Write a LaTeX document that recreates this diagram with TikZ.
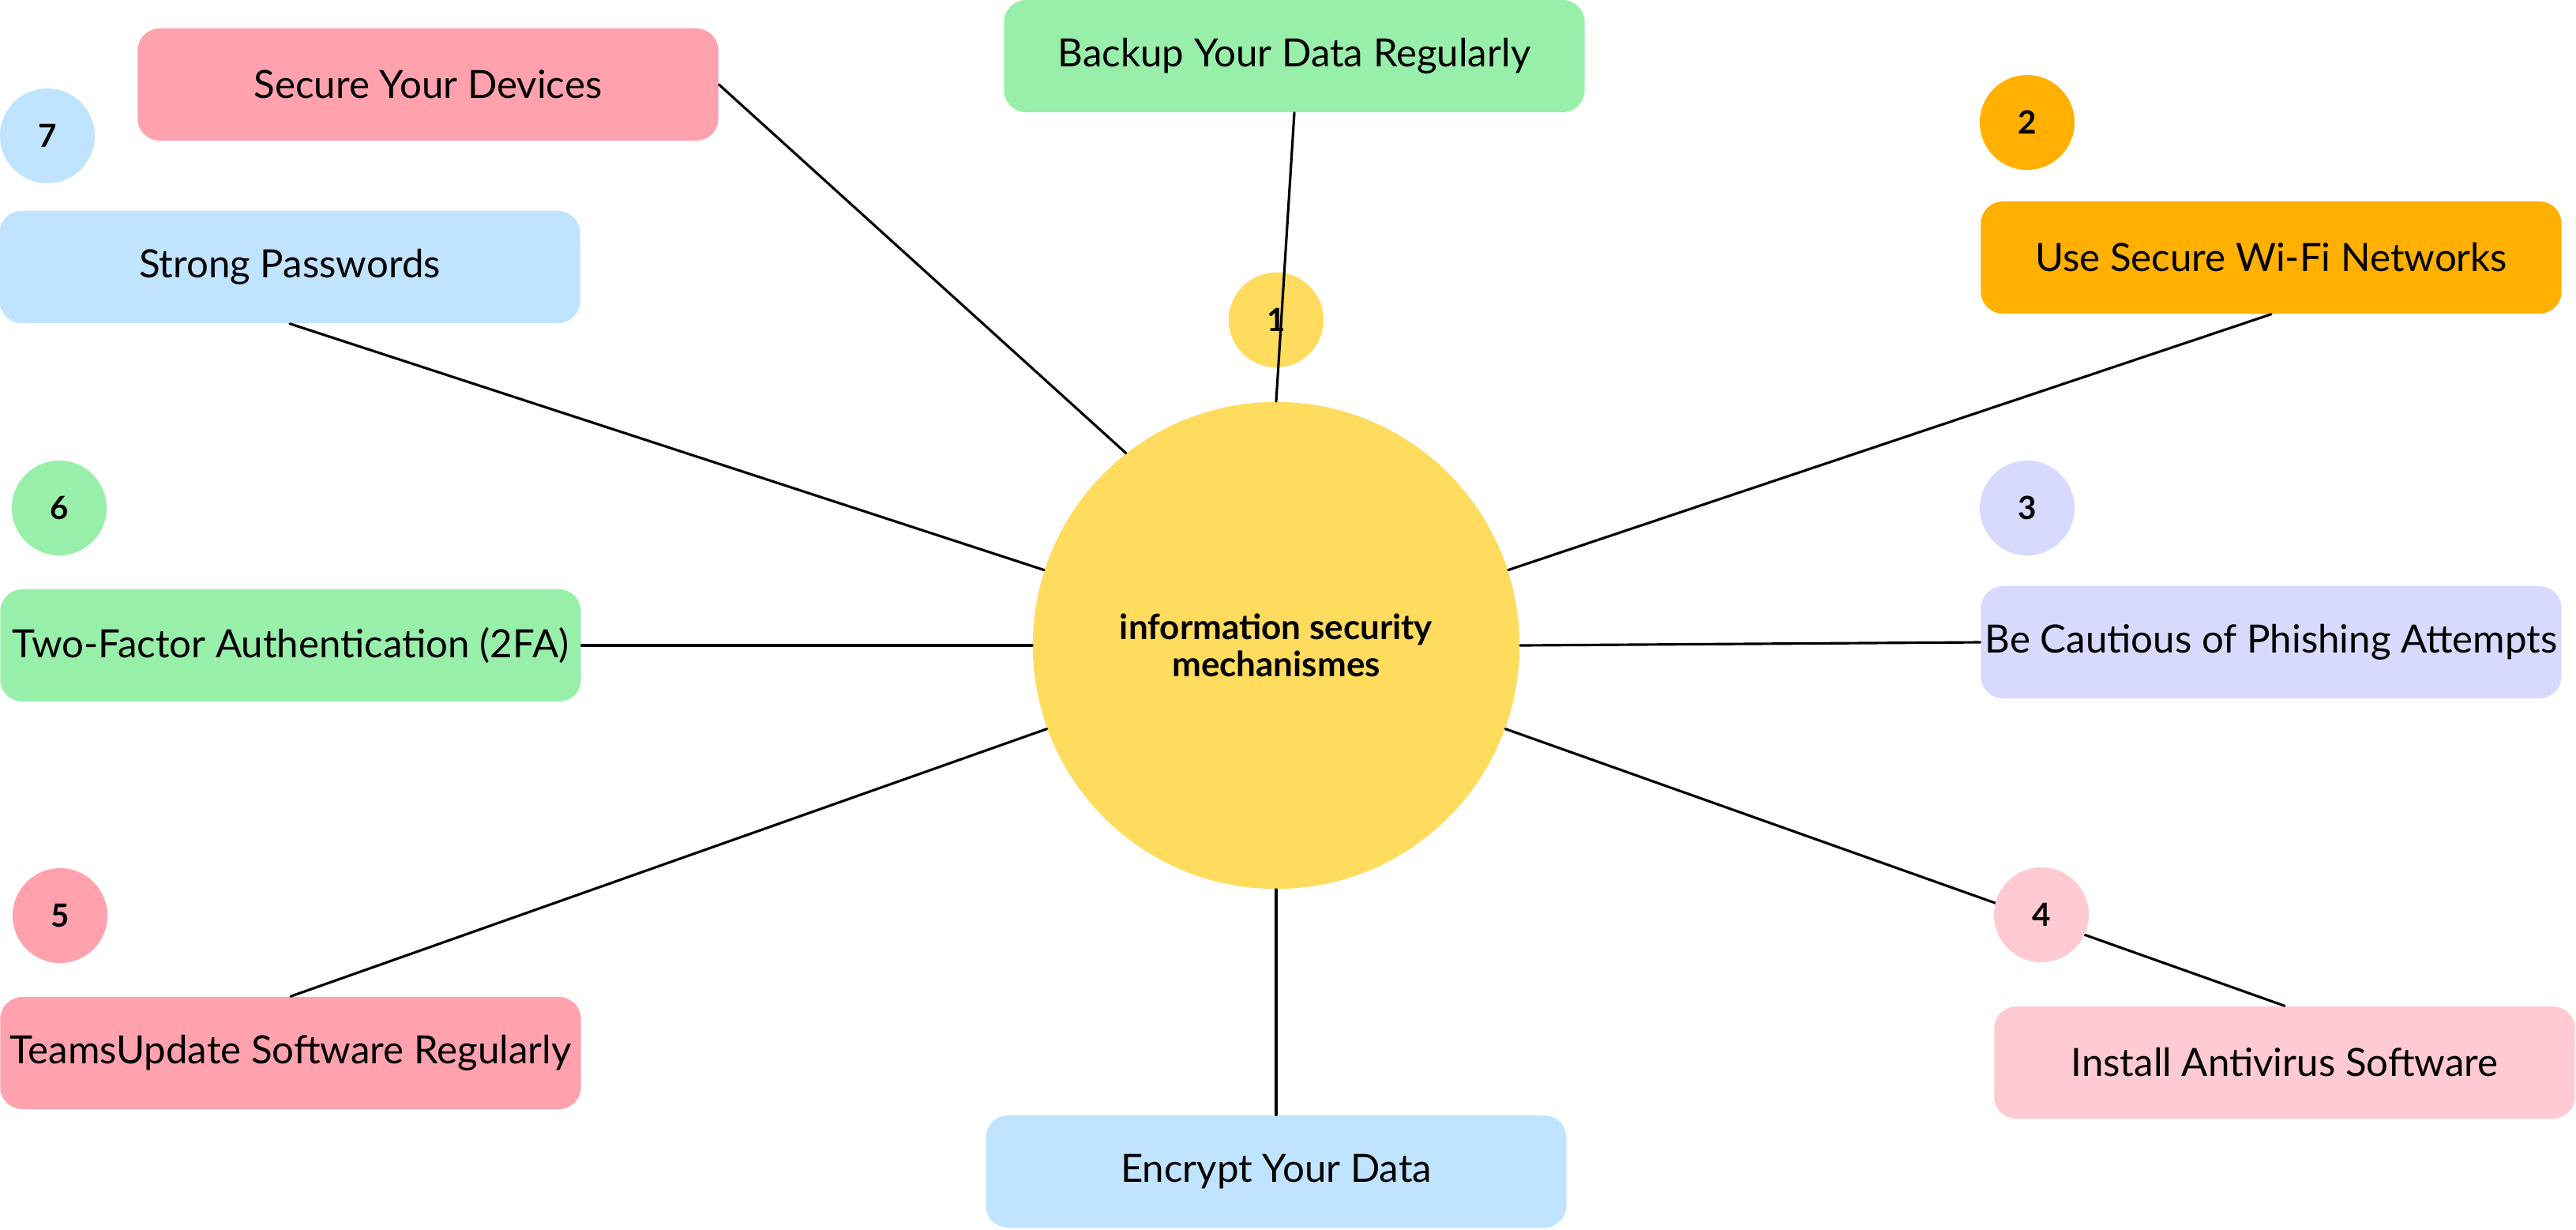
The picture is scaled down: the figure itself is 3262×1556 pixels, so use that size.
\documentclass[tikz,border=0pt]{standalone}
\usepackage{fontspec}
\setmainfont{Lato}
\usetikzlibrary{positioning}
\definecolor{rose}{HTML}{FFA2AE}
\definecolor{blush}{HTML}{FFCAD1}
\definecolor{mint}{HTML}{98EFAA}
\definecolor{sky}{HTML}{C0E4FF}
\definecolor{amber}{HTML}{FFB000}
\definecolor{lilac}{HTML}{D7DAFD}
\definecolor{sun}{HTML}{FFDB5E}
\tikzset{
  tip/.style={rounded corners=0.28cm,minimum width=7.35cm,minimum height=1.42cm,inner sep=0pt,font=\fontsize{14}{17}\selectfont},
  badge/.style={circle,minimum size=1.2cm,inner sep=0pt,font=\bfseries\fontsize{11.5}{13}\selectfont},
  link/.style={line width=0.9pt}
}
\begin{document}
\begin{tikzpicture}[line cap=round,line join=round,x=0.01cm,y=-0.01cm]
\useasboundingbox (0,0) rectangle (3262,1556);
% centre
\node[circle,fill=sun,minimum size=6.16cm,inner sep=0pt,align=center,font=\bfseries\fontsize{12.5}{13.4}\selectfont] (hub) at (1616,817) {information security\\mechanismes};
% tips
\node[tip,fill=mint] (backup) at (1639,71) {Backup Your Data Regularly};
\node[tip,fill=rose] (devices) at (542,107) {Secure Your Devices};
\node[tip,fill=sky] (passwords) at (367,338) {Strong Passwords};
\node[tip,fill=amber] (wifi) at (2876,326) {Use Secure Wi-Fi Networks};
\node[tip,fill=lilac] (phishing) at (2876,813) {Be Cautious of Phishing Attempts};
\node[tip,fill=mint] (twofa) at (368,817) {Two-Factor Authentication (2FA)};
\node[tip,fill=rose] (update) at (368,1333) {TeamsUpdate Software Regularly};
\node[tip,fill=blush] (antivirus) at (2893,1345) {Install Antivirus Software};
\node[tip,fill=sky] (encrypt) at (1616,1483) {Encrypt Your Data};
% badges
\node[badge,fill=sun] (n1) at (1616,405) {1};
\node[badge,fill=amber] (n2) at (2567,155) {2};
\node[badge,fill=lilac] (n3) at (2567,643) {3};
\node[badge,fill=rose] (n5) at (76,1159) {5};
\node[badge,fill=mint] (n6) at (75,643) {6};
\node[badge,fill=sky] (n7) at (60,172) {7};
% connectors
\draw[link] (backup.south) -- (hub.north);
\draw[link] (devices.east) -- (hub.128);
\draw[link] (passwords.south) -- (hub.162);
\draw[link] (wifi.south) -- (hub.18);
\draw[link] (twofa.east) -- (hub.west);
\draw[link] (phishing.west) -- (hub.east);
\draw[link] (update.north) -- (hub.200);
\draw[link] (encrypt.north) -- (hub.south);
\draw[link] (hub.340) -- (antivirus.north);
\node[badge,fill=blush] (n4) at (2585,1158) {4};
\end{tikzpicture}
\end{document}
